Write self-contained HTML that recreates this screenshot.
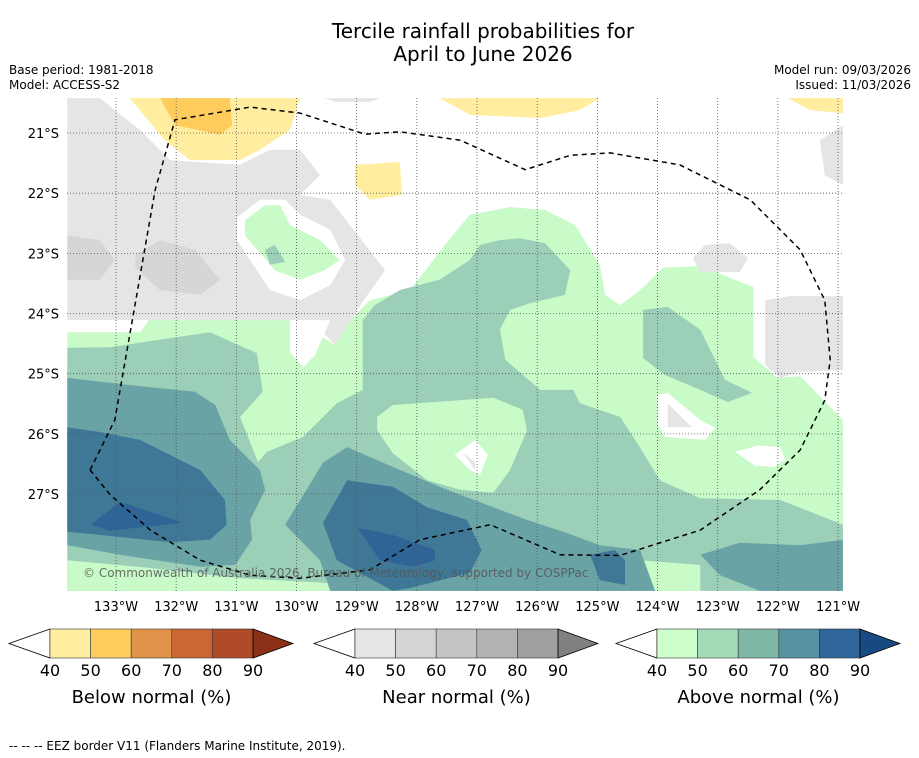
<!DOCTYPE html>
<html><head><meta charset="utf-8"><style>
body{margin:0;background:#fff;width:919px;height:758px;overflow:hidden;font-family:"Liberation Sans","DejaVu Sans",sans-serif}
svg{display:block}
</style></head><body>
<svg id="chart" width="919" height="758" viewBox="0 0 919 758" xmlns="http://www.w3.org/2000/svg" font-family="DejaVu Sans, Liberation Sans, sans-serif">
<text x="483" y="38" font-size="20" text-anchor="middle">Tercile rainfall probabilities for</text>
<text x="483" y="61" font-size="20" text-anchor="middle">April to June 2026</text>
<text x="9" y="74" font-size="12">Base period: 1981-2018</text>
<text x="9" y="89" font-size="12">Model: ACCESS-S2</text>
<text x="911" y="74" font-size="12" text-anchor="end">Model run: 09/03/2026</text>
<text x="911" y="89" font-size="12" text-anchor="end">Issued: 11/03/2026</text>
<defs><clipPath id="mapclip"><rect x="67" y="98" width="776" height="493"/></clipPath></defs>
<g id="map" clip-path="url(#mapclip)"></g>
<g id="axes"></g>
<g id="bars"></g>
<text x="9" y="750" font-size="12">--  --  -- EEZ border V11 (Flanders Marine Institute, 2019).</text>
</svg>
<script>
// ---- data (lon in degrees West, lat in degrees South) ----
const lonTicks=[133,132,131,130,129,128,127,126,125,124,123,122,121];
const latTicks=[21,22,23,24,25,26,27];
const lightMain=[[133.81,24.31],[133.81,28.61],[120.92,28.61],[120.92,25.77],[121.63,25.04],[122.01,25.07],[122.41,24.72],[122.41,23.56],[123.29,23.21],[123.91,23.24],[124.29,23.61],[124.62,23.86],[124.87,23.69],[124.96,23.19],[125.37,22.53],[125.87,22.28],[126.45,22.23],[127.12,22.36],[127.53,22.86],[128.11,23.61],[128.78,23.78],[129.11,24.11],[129.36,24.52],[129.78,24.27],[130.11,24.07],[132.43,24.07],[132.60,24.31]];
const greyLeft=[[133.81,20.42],[133.27,20.42],[132.60,20.95],[132.10,21.45],[130.94,21.53],[130.44,21.28],[129.94,21.28],[129.61,21.70],[129.94,22.03],[129.44,22.11],[128.53,23.28],[128.94,23.86],[129.36,24.52],[129.61,24.27],[129.94,24.11],[133.81,24.11]];
const greyTop=[[129.53,20.42],[128.61,20.42],[128.78,20.48],[129.36,20.48]];
const greyDark1=[[132.68,23.03],[132.27,22.78],[131.69,22.94],[131.27,23.44],[131.60,23.69],[132.27,23.61],[132.68,23.24]];
const greyDark2=[[133.81,22.70],[133.27,22.78],[133.02,23.11],[133.27,23.44],[133.81,23.44]];
const whiteHole=[[130.99,22.41],[130.61,22.11],[130.19,22.11],[129.94,22.36],[129.44,22.61],[129.19,23.11],[129.44,23.53],[129.94,23.78],[130.44,23.61],[130.99,22.78]];
const greenBlob=[[130.86,22.45],[130.52,22.20],[130.27,22.20],[130.11,22.53],[129.61,22.78],[129.28,23.11],[129.53,23.28],[129.94,23.44],[130.36,23.28],[130.86,22.70]];
const midDot=[[130.52,22.94],[130.36,22.86],[130.19,23.14],[130.44,23.19]];
const whiteV=[[130.11,24.11],[129.44,24.11],[129.69,24.69],[129.89,24.89],[130.11,24.64]];
const yellow1=[[132.77,20.42],[129.94,20.42],[130.11,20.95],[130.61,21.28],[130.94,21.45],[131.77,21.45],[132.19,21.12]];
const orange1=[[132.27,20.42],[131.11,20.42],[131.07,20.87],[131.27,21.03],[132.02,20.87]];
const yellow2=[[129.03,21.53],[128.28,21.48],[128.25,22.03],[128.78,22.11],[129.03,21.86]];
const yellow3=[[127.62,20.42],[124.96,20.42],[125.29,20.62],[125.95,20.75],[127.12,20.70]];
const yellow4=[[121.83,20.42],[120.92,20.42],[120.92,20.67],[121.47,20.62]];
const greyRight=[[122.21,23.78],[121.80,23.71],[120.92,23.71],[120.92,24.94],[121.63,24.97],[121.96,25.07],[122.21,24.86]];
const greyRight2=[[123.41,23.08],[123.21,22.86],[122.80,22.83],[122.50,23.08],[122.63,23.31],[123.29,23.31]];
const greyRight3=[[121.30,21.12],[120.92,20.87],[120.92,21.86],[121.22,21.70]];
const midMain=[[133.81,24.57],[133.10,24.56],[131.44,24.31],[130.66,24.66],[130.56,25.30],[130.94,25.72],[130.64,26.47],[130.49,26.30],[129.89,26.05],[129.33,25.49],[128.90,25.27],[128.90,24.11],[128.70,23.86],[128.28,23.61],[127.62,23.44],[127.12,23.11],[126.95,22.86],[126.62,22.78],[126.29,22.75],[125.87,22.83],[125.45,23.28],[125.54,23.69],[126.12,23.83],[126.45,23.94],[126.62,24.27],[126.53,24.77],[125.95,25.27],[125.40,25.27],[125.29,25.49],[124.62,25.72],[124.34,26.15],[123.96,26.77],[123.29,27.07],[121.96,27.10],[120.92,27.51],[120.92,28.61],[133.81,28.61]];
const lightIsland=[[128.66,25.72],[128.40,25.52],[126.73,25.40],[126.24,25.60],[126.17,25.94],[126.45,26.60],[126.73,26.98],[127.28,26.93],[127.83,26.77],[128.40,26.32],[128.66,25.94]];
const midRight=[[124.24,23.94],[123.83,23.89],[123.29,24.27],[122.88,25.10],[122.43,25.32],[122.83,25.47],[123.29,25.27],[123.88,25.02],[124.24,24.74]];
const lightBL=[[133.81,28.10],[132.43,28.23],[130.94,28.40],[129.44,28.48],[129.44,28.61],[133.81,28.61]];
const lightBR=[[124.29,28.10],[123.29,28.18],[123.29,28.61],[124.29,28.61]];
const tealL=[[133.81,25.07],[132.77,25.19],[131.69,25.30],[131.35,25.52],[131.11,26.10],[130.61,26.60],[130.52,26.93],[130.77,27.43],[130.74,27.76],[131.02,28.18],[131.60,28.21],[132.93,28.01],[133.81,27.85]];
const tealC=[[130.19,27.51],[129.56,26.48],[129.16,26.22],[128.40,26.55],[127.57,26.90],[126.73,27.22],[126.17,27.43],[125.50,27.65],[124.96,27.85],[124.29,27.93],[124.04,28.61],[129.44,28.61],[129.61,28.10]];
const tealBR=[[123.29,28.01],[122.63,27.81],[121.63,27.85],[120.92,27.76],[120.92,28.61],[122.30,28.61],[122.96,28.35]];
const blueL=[[133.81,25.89],[133.27,25.97],[132.60,26.10],[131.60,26.60],[131.19,27.10],[131.16,27.51],[131.44,27.76],[132.10,27.80],[133.27,27.68],[133.81,27.63]];
const blueC=[[129.56,27.48],[129.16,26.77],[128.40,26.88],[127.83,27.22],[127.17,27.43],[126.92,27.93],[127.12,28.31],[128.06,28.55],[128.40,28.61],[129.33,28.10]];
const blueS=[[125.12,28.01],[124.71,27.93],[124.54,28.10],[124.54,28.51],[124.96,28.43]];
const darkL=[[133.42,27.51],[132.93,27.13],[131.89,27.48],[133.10,27.61]];
const darkC=[[128.99,27.56],[128.40,27.68],[127.70,27.93],[127.70,28.10],[128.06,28.21],[128.61,28.10]];
const whiteR1=[[123.99,25.35],[123.83,25.32],[123.29,25.77],[123.04,25.90],[123.21,26.10],[123.88,26.05],[123.99,25.85]];
const greyR1=[[123.83,25.49],[123.43,25.89],[123.83,25.89]];
const whiteR2=[[122.71,26.30],[122.30,26.19],[121.96,26.22],[121.88,26.43],[122.05,26.55],[122.38,26.53]];
const whiteC=[[127.37,26.35],[127.03,26.10],[126.82,26.35],[126.95,26.68],[127.12,26.60]];
const greyC=[[127.23,26.32],[127.03,26.47],[127.03,26.60]];
const eez=[[133.43,26.60],[133.02,25.77],[132.35,21.95],[132.02,20.78],[130.77,20.57],[129.94,20.67],[128.86,21.02],[128.28,20.98],[127.28,21.12],[126.20,21.61],[125.45,21.37],[124.79,21.33],[123.63,21.53],[122.46,22.11],[121.63,22.94],[121.22,23.78],[121.13,24.77],[121.22,25.44],[121.63,26.27],[122.30,26.93],[123.29,27.60],[124.62,28.02],[125.62,28.01],[126.78,27.51],[127.95,27.76],[128.78,28.26],[129.94,28.40],[130.77,28.35],[131.60,28.10],[132.43,27.60],[133.10,27.01],[133.43,26.60]];
const barTicks=["40","50","60","70","80","90"];
const belowColors=["#ffeda0","#fecc5c","#e09248","#cc6633","#b04a28","#8c3018"];
const nearColors=["#e5e5e5","#d4d4d4","#c4c4c4","#b3b3b3","#a0a0a0","#808080"];
const aboveColors=["#ccffcc","#a5dab8","#80b8a8","#5592a2","#2f6699","#174a80"];
const barTitles=["Below normal (%)","Near normal (%)","Above normal (%)"];

// ---- axes ----
const PX=60.17;
function X(lon){return 116+(133-lon)*PX;}
function Y(lat){return 133+(lat-21)*PX;}
const NS="http://www.w3.org/2000/svg";
function mk(t,a,p){const e=document.createElementNS(NS,t);for(const k in a)e.setAttribute(k,a[k]);p.appendChild(e);return e;}
const mapG=document.getElementById('map');
function poly(pts,fill,name){
  const e=mk('polygon',{points:pts.map(p=>X(p[0]).toFixed(1)+','+Y(p[1]).toFixed(1)).join(' '),fill:fill},mapG);
  
  
}
const LG="#c8fbc8",MG="#9bcfb8",TE="#6aa3a6",BL="#3f7896",DB="#2e6496",GR="#e5e5e5",GD="#d6d6d6",WH="#ffffff";
poly(lightMain,LG,'above-40-region');
poly(greyLeft,GR,'near-40-region-west');
poly(greyTop,GR,'near-40-region-top');
poly(greyDark1,GD,'near-50-region-a');
poly(greyDark2,GD,'near-50-region-b');
poly(whiteHole,WH,'no-signal-region');
poly(greenBlob,LG,'above-40-blob');
poly(midDot,MG,'above-50-dot');
poly(whiteV,WH,'no-signal-notch');
poly(yellow1,"#ffeda0",'below-40-region-a');
poly(orange1,"#fecc5c",'below-50-region');
poly(yellow2,"#ffeda0",'below-40-region-b');
poly(yellow3,"#ffeda0",'below-40-region-c');
poly(yellow4,"#ffeda0",'below-40-region-d');
poly(greyRight,GR,'near-40-region-east');
poly(greyRight2,GR,'near-40-region-ne');
poly(greyRight3,GR,'near-40-region-edge');
poly(midMain,MG,'above-50-region');
poly(lightIsland,LG,'above-40-island');
poly(midRight,MG,'above-50-region-east');
poly(lightBL,LG,'above-40-strip-sw');
poly(lightBR,LG,'above-40-strip-s');
poly(tealL,TE,'above-60-region-west');
poly(tealC,TE,'above-60-region-south');
poly(tealBR,TE,'above-60-region-se');
poly(blueL,BL,'above-70-region-west');
poly(blueC,BL,'above-70-region-south');
poly(blueS,BL,'above-70-region-small');
poly(darkL,DB,'above-80-region-west');
poly(darkC,DB,'above-80-region-south');
poly(whiteR1,WH,'no-signal-east-a');
poly(greyR1,GR,'near-40-east-a');
poly(whiteR2,WH,'no-signal-east-b');
poly(whiteC,WH,'no-signal-centre');
poly(greyC,GR,'near-40-centre');
// gridlines
lonTicks.forEach(l=>{const e=mk('line',{x1:X(l),x2:X(l),y1:98,y2:591,stroke:'#555','stroke-width':0.8,'stroke-dasharray':'1,2'},mapG);

});
latTicks.forEach(l=>{const e=mk('line',{x1:67,x2:843,y1:Y(l),y2:Y(l),stroke:'#555','stroke-width':0.8,'stroke-dasharray':'1,2'},mapG);

});
const ez=mk('polyline',{points:eez.map(p=>X(p[0]).toFixed(1)+','+Y(p[1]).toFixed(1)).join(' '),fill:'none',stroke:'#000','stroke-width':1.5,'stroke-dasharray':'5,4'},mapG);


const cp=mk('text',{x:83,y:577,'font-size':12,fill:'#555','fill-opacity':0.85},mapG);
cp.textContent='© Commonwealth of Australia 2026, Bureau of Meteorology, supported by COSPPac';


// tick labels
const axesG=document.getElementById('axes');
lonTicks.forEach(l=>{const t=mk('text',{x:X(l),y:611,'font-size':13,'text-anchor':'middle'},axesG);t.textContent=l+'°W';

});
latTicks.forEach(l=>{const t=mk('text',{x:59,y:Y(l)+5,'font-size':13,'text-anchor':'end'},axesG);t.textContent=l+'°S';

});
// colorbars
const barsG=document.getElementById('bars');
const starts=[50,355,657];const sets=[belowColors,nearColors,aboveColors];
const bw=40.6,barTop=629,bh=29;
sets.forEach((cols,i)=>{
  const x0=starts[i];
  const g=mk('g',{},barsG);
  
  
  mk('polygon',{points:`${x0},${barTop} ${x0-41},${barTop+bh/2} ${x0},${barTop+bh}`,fill:'#fff',stroke:'#000','stroke-width':0.8},g);
  for(let k=0;k<5;k++){mk('rect',{x:x0+k*bw,y:barTop,width:bw,height:bh,fill:cols[k],stroke:'#333','stroke-width':0.6},g);}
  const xe=x0+5*bw;
  mk('polygon',{points:`${xe},${barTop} ${xe+40},${barTop+bh/2} ${xe},${barTop+bh}`,fill:cols[5],stroke:'#000','stroke-width':0.8},g);
  barTicks.forEach((tk,k)=>{const t=mk('text',{x:x0+k*bw,y:676,'font-size':16,'text-anchor':'middle'},g);t.textContent=tk;
  
  });
  const tt=mk('text',{x:x0+2.5*bw,y:703,'font-size':18,'text-anchor':'middle'},g);tt.textContent=barTitles[i];
  
  
});
</script>
</body></html>
